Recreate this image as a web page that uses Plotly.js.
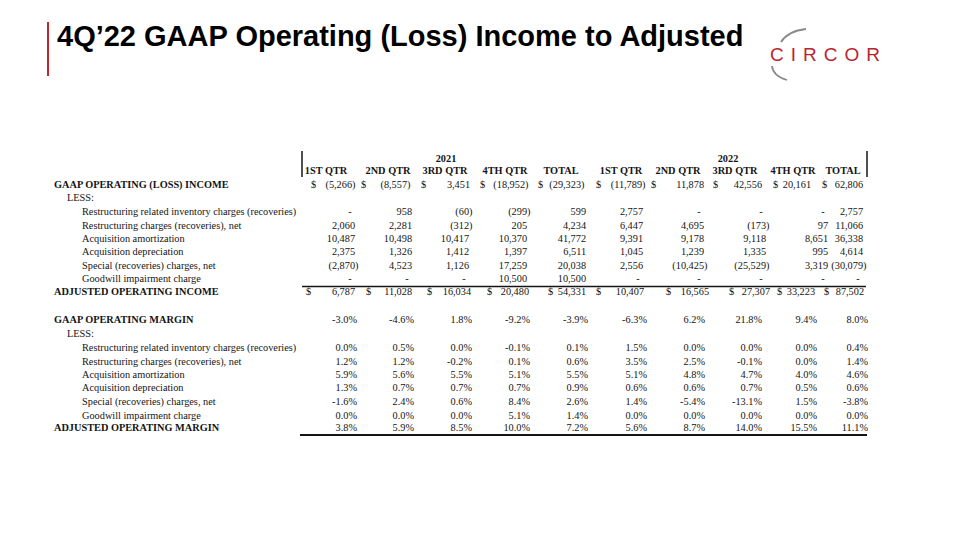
<!DOCTYPE html>
<html>
<head>
<meta charset="utf-8">
<script src="https://cdn.plot.ly/plotly-3.0.1.min.js"></script>
<style>html,body{margin:0;padding:0;background:#fff;}#chart{width:960px;height:540px;}</style>
</head>
<body>
<div id="chart"></div>
<script>
// ---------- DATA ----------
const years = ['2021', '2022'];
const colHeaders = ['1ST QTR', '2ND QTR', '3RD QTR', '4TH QTR', 'TOTAL',
                    '1ST QTR', '2ND QTR', '3RD QTR', '4TH QTR', 'TOTAL'];
const titleText = '4Q\u201922 GAAP Operating (Loss) Income to Adjusted';
const incomeLabels = ['GAAP OPERATING (LOSS) INCOME', 'LESS:',
  'Restructuring related inventory charges (recoveries)',
  'Restructuring charges (recoveries), net',
  'Acquisition amortization', 'Acquisition depreciation',
  'Special (recoveries) charges, net', 'Goodwill impairment charge',
  'ADJUSTED OPERATING INCOME'];
const marginLabels = ['GAAP OPERATING MARGIN', 'LESS:',
  'Restructuring related inventory charges (recoveries)',
  'Restructuring charges (recoveries), net',
  'Acquisition amortization', 'Acquisition depreciation',
  'Special (recoveries) charges, net', 'Goodwill impairment charge',
  'ADJUSTED OPERATING MARGIN'];

const gaapIncome        = [-5266, -8557, 3451, -18952, -29323, -11789, 11878, 42556, 20161, 62806];
const restructInventory = [0, 958, -60, -299, 599, 2757, 0, 0, 0, 2757];
const restructCharges   = [2060, 2281, -312, 205, 4234, 6447, 4695, -173, 97, 11066];
const acqAmortization   = [10487, 10498, 10417, 10370, 41772, 9391, 9178, 9118, 8651, 36338];
const acqDepreciation   = [2375, 1326, 1412, 1397, 6511, 1045, 1239, 1335, 995, 4614];
const specialCharges    = [-2870, 4523, 1126, 17259, 20038, 2556, -10425, -25529, 3319, -30079];
const goodwillCharge    = [0, 0, 0, 10500, 10500, 0, 0, 0, 0, 0];
const adjIncome         = [6787, 11028, 16034, 20480, 54331, 10407, 16565, 27307, 33223, 87502];

const gaapMargin        = [-3.0, -4.6, 1.8, -9.2, -3.9, -6.3, 6.2, 21.8, 9.4, 8.0];
const inventoryMargin   = [0.0, 0.5, 0.0, -0.1, 0.1, 1.5, 0.0, 0.0, 0.0, 0.4];
const restructMargin    = [1.2, 1.2, -0.2, 0.1, 0.6, 3.5, 2.5, -0.1, 0.0, 1.4];
const amortMargin       = [5.9, 5.6, 5.5, 5.1, 5.5, 5.1, 4.8, 4.7, 4.0, 4.6];
const deprMargin        = [1.3, 0.7, 0.7, 0.7, 0.9, 0.6, 0.6, 0.7, 0.5, 0.6];
const specialMargin     = [-1.6, 2.4, 0.6, 8.4, 2.6, 1.4, -5.4, -13.1, 1.5, -3.8];
const goodwillMargin    = [0.0, 0.0, 0.0, 5.1, 1.4, 0.0, 0.0, 0.0, 0.0, 0.0];
const adjMargin         = [3.8, 5.9, 8.5, 10.0, 7.2, 5.6, 8.7, 14.0, 15.5, 11.1];

// ---------- LAYOUT GEOMETRY (pixel grid of the axes) ----------
const colRight   = [355, 412, 469, 527, 586, 643, 704, 766, 828, 863];
const gaapRight  = [352, 407, 470, 525, 581, 642, 704, 762, 811, 863];
const adjRight   = [355, 412, 471, 529, 586, 644, 709, 770, 815, 864];
const pctRight   = [357, 414, 472, 530, 588, 647, 705, 762, 817, 868];
const gaapDollarX = [311, 361, 421, 480, 538, 596, 651, 713, 773, 822];
const adjDollarX  = [306, 366, 427, 487, 548, 596, 666, 729, 777, 824];
const headerX = [326, 388, 445, 505, 561, 621, 678, 735, 793, 843];
const yearX = [446, 728];
const incomeY = [185.5, 198.5, 212.5, 226, 239, 252.5, 266, 279, 292.5];
const marginY = [320, 334, 348, 362, 375, 388, 402, 416, 428];
const labelX = [54, 67, 82, 82, 82, 82, 82, 82, 54];
const boldRows = [true, false, false, false, false, false, false, false, true];

const INK = '#141414';
const SERIF = 'Liberation Serif, Times New Roman, serif';
const FS = 10.3;
const HIDE = s => '<span style="color:rgba(0,0,0,0)">' + s + '</span>';

function fmtNum(v) {
  if (v === 0) return '-' + HIDE('))');
  const s = Math.abs(v).toLocaleString('en-US');
  return v < 0 ? '(' + s + ')' : s + HIDE(')');
}
function fmtPct(v) { return v.toFixed(1) + '%'; }

const traces = [];
function textTrace(xs, ys, texts, pos, bold, size) {
  traces.push({
    type: 'scatter', mode: 'text', x: xs, y: ys, text: texts,
    textposition: pos, hoverinfo: 'skip', cliponaxis: false,
    textfont: {family: SERIF, size: size || FS, color: INK, weight: bold ? 'bold' : 'normal'}
  });
}

// headers
textTrace(yearX, yearX.map(() => 159), years, 'middle center', true);
textTrace(headerX, headerX.map(() => 171), colHeaders, 'middle center', true);

// row labels
incomeLabels.forEach((l, i) => textTrace([labelX[i]], [incomeY[i]], [l], 'middle right', boldRows[i]));
marginLabels.forEach((l, i) => textTrace([labelX[i]], [marginY[i]], [l], 'middle right', boldRows[i]));

// income values
const incomeRows = [restructInventory, restructCharges, acqAmortization, acqDepreciation, specialCharges, goodwillCharge];
textTrace(gaapRight.map(x => x + 3.5), gaapIncome.map(() => incomeY[0]), gaapIncome.map(fmtNum), 'middle left', false);
incomeRows.forEach((row, r) => {
  textTrace(colRight.map(x => x + 3.5), row.map(() => incomeY[r + 2]), row.map(fmtNum), 'middle left', false);
});
textTrace(adjRight.map(x => x + 3.5), adjIncome.map(() => incomeY[8]), adjIncome.map(fmtNum), 'middle left', false);
textTrace(gaapDollarX, gaapDollarX.map(() => incomeY[0]), gaapDollarX.map(() => '$'), 'middle right', false);
textTrace(adjDollarX, adjDollarX.map(() => incomeY[8]), adjDollarX.map(() => '$'), 'middle right', false);

// margin values
const marginRows = [gaapMargin, null, inventoryMargin, restructMargin, amortMargin, deprMargin, specialMargin, goodwillMargin, adjMargin];
marginRows.forEach((row, r) => {
  if (!row) return;
  textTrace(pctRight, row.map(() => marginY[r]), row.map(fmtPct), 'middle left', false);
});

const shapes = [
  // title accent bar
  {type: 'line', xref: 'x', yref: 'y', x0: 48, x1: 48, y0: 22, y1: 76, line: {color: '#c0272d', width: 2}},
  // header verticals
  {type: 'line', xref: 'x', yref: 'y', x0: 302, x1: 302, y0: 151, y1: 177, line: {color: INK, width: 1.5}},
  {type: 'line', xref: 'x', yref: 'y', x0: 867, x1: 867, y0: 151, y1: 177, line: {color: INK, width: 1.5}},
  // subtotal line
  {type: 'line', xref: 'x', yref: 'y', x0: 302, x1: 866, y0: 286.5, y1: 286.5, line: {color: INK, width: 1.5}},
  // bottom rule
  {type: 'line', xref: 'x', yref: 'y', x0: 300, x1: 867, y0: 435, y1: 435, line: {color: INK, width: 2}},
  // logo arcs
  {type: 'path', xref: 'x', yref: 'y', path: 'M 781 42 Q 788 31 806 29', line: {color: '#8a8a8a', width: 1.8}},
  {type: 'path', xref: 'x', yref: 'y', path: 'M 772 66 Q 773 76 787 80', line: {color: '#8a8a8a', width: 1.8}}
];

const annotations = [
  {xref: 'x', yref: 'y', x: 768, y: 54, xanchor: 'left', yanchor: 'middle', showarrow: false,
   text: '<span style="letter-spacing:7px">CIRCOR</span>',
   font: {family: 'Liberation Sans, Arial, sans-serif', size: 19, color: '#b9262f'}}
];

const layout = {
  width: 960, height: 540,
  margin: {l: 0, r: 0, t: 0, b: 0},
  paper_bgcolor: '#ffffff', plot_bgcolor: '#ffffff',
  showlegend: false,
  title: {text: '<b>' + titleText + '</b>', xref: 'paper', yref: 'paper',
          x: 57 / 960, xanchor: 'left', y: 1 - 36 / 540, yanchor: 'middle',
          font: {family: 'Liberation Sans, Arial, sans-serif', size: 29, color: '#000'}},
  xaxis: {range: [0, 960], visible: false, fixedrange: true},
  yaxis: {range: [540, 0], visible: false, fixedrange: true},
  shapes: shapes,
  annotations: annotations
};

Plotly.newPlot('chart', traces, layout, {staticPlot: true, displayModeBar: false});
</script>
</body>
</html>
